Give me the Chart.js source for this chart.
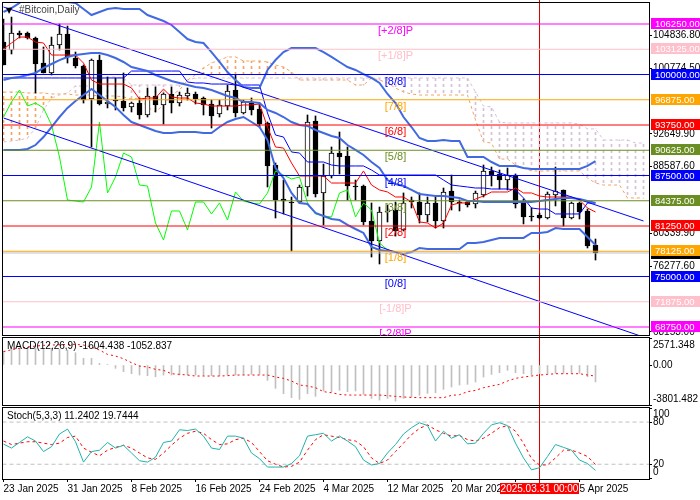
<!DOCTYPE html>
<html>
<head>
<meta charset="utf-8">
<script src="https://cdn.jsdelivr.net/npm/chart.js@4/dist/chart.umd.min.js"></script>
<style>
body{margin:0;background:#fff;}
canvas{position:absolute;left:0;}
</style>
</head>
<body>
<canvas id="priceChart" width="700" height="336" style="top:0"></canvas>
<canvas id="macdChart" width="700" height="70" style="top:336px"></canvas>
<canvas id="stochChart" width="700" height="94" style="top:406px"></canvas>
<script>
// candles, one per day from 23 Jan 2025
var opens = [104020,103030,105140,105140,104520,101420,100190,103650,105010,102040,101050,96970,101790,96350,96840,96720,95980,96470,94990,97340,96230,97590,96470,97340,97590,97090,96350,95110,96100,98080,95240,96600,95730,94000,88800,84590,84220,84220,86080,94240,85340,87440,90280,89910,86200,86200,81870,79390,82980,83230,80760,84470,84220,82610,84100,81870,85580,84220,84220,83970,85090,88060,87690,86940,87560,84220,82490,82610,82240,85090,85710,82240,84100,83110,78900];
var highs = [106870,107110,105380,105260,104640,103400,104640,106250,106000,102780,101180,101920,102410,99690,99570,100190,96600,97090,98330,98450,97710,98450,97830,98330,97830,97220,96840,96840,98700,99940,96840,97090,96470,94120,89050,86940,84840,86320,94990,94870,88920,91030,92880,91030,86940,86320,84100,83600,83850,84220,85340,84840,85340,84840,84840,85950,87560,84470,84340,85580,88800,88550,88180,88430,87690,84590,83480,82860,85460,88550,85710,84220,84220,83350,79640];
var lows = [101180,102540,104520,104390,97710,100190,99940,103030,101420,100810,96470,91030,96230,95860,95610,95480,95360,94490,94740,95360,93870,95240,96100,96840,96350,94990,93380,94740,95610,94740,95110,94990,93500,86080,82240,82740,78160,84100,84960,84840,81380,87190,87690,84470,84470,81380,77410,76550,81750,80000,80630,83480,81620,81750,81000,81000,83230,83110,83600,83480,84840,86200,85830,85710,83480,81500,81870,82120,82120,83730,81250,82120,82120,78530,77040];
var closes = [101180,105140,104890,104520,101300,100190,103650,105010,102170,101050,96840,101790,96350,96600,96720,95860,96470,94990,97340,96230,97590,96470,97460,97710,96970,96230,94870,96230,97960,95240,96600,95610,93870,88680,84470,84340,84100,86080,94120,85210,87440,90280,89790,86200,86080,81750,79390,82980,83110,80630,84100,84220,82610,84100,81870,85460,84220,84100,83850,85340,88060,87560,86940,87560,83970,82370,82370,82240,85210,85580,82240,84100,82980,78780,77910];

// bollinger bands
var bbUpper = [107735,108230,108850,109960,null,null,null,109960,108970,108850,108105,107360,107735,108105,108230,108105,108105,108105,107360,106990,106620,106130,105260,104390,104020,103900,102780,101550,100310,99320,98450,98330,98330,100560,101790,102780,103280,103280,103280,103280,102780,102170,101550,100930,100560,100060,99570,98950,97590,96470,94740,93500,92140,91770,91770,91890,91770,91770,89790,89790,89790,89170,88680,88680,88680,88430,88300,88300,88300,88300,88300,88300,88300,88680,89290];
var bbMiddle = [99320,99570,99690,99940,100190,100810,101300,101790,102170,102410,102540,102660,102660,102410,102040,101550,100930,100680,100430,99940,99570,99200,98950,98700,98450,98330,98080,97710,97340,97090,96600,96600,96470,95610,95240,94740,94120,93750,93630,93130,92760,92390,92140,91270,90660,90040,89170,88430,86940,86450,86200,85710,85210,85090,84960,84960,84840,84720,84340,84340,84220,84220,84220,84220,84220,84220,84220,84340,84470,84590,84720,84720,84590,84340,84100];
var bbLower = [90660,90660,90660,90780,91270,92260,93500,94740,95860,96720,97460,98200,97460,96720,95980,94990,94120,93750,93380,93010,92760,92760,92880,92880,92880,92760,92760,93500,94120,94490,94740,94120,93500,91890,88430,87190,85340,84100,83970,82860,82490,82120,81990,81380,80880,80390,78650,78280,78160,78030,77790,78030,78530,78400,78400,78400,78400,78400,79150,79150,79270,79520,79770,79770,79770,79770,80390,80390,80510,81000,80880,80880,80880,79890,78900];

// ichimoku
var tenkan = [103150,103900,104640,104640,104020,103900,102410,102410,102410,102410,101420,99320,98820,98820,98820,98820,98330,96970,97090,97090,98200,97220,97090,97090,96470,96350,96100,96100,96100,96100,96230,96230,96350,93500,91030,90900,89050,87440,87440,87440,87440,86570,86570,86570,86570,88060,86320,85710,85460,84840,84840,84220,81750,81620,81000,81620,83850,84100,84100,84590,84960,85460,85460,85460,85950,85340,85340,84960,84840,84840,84840,84840,84470,83480,82980];
var kijun = [99570,99570,99570,99570,99570,99570,99570,99570,99570,99570,99570,99570,99570,99570,99570,99570,100430,100430,100430,100430,100430,100430,100430,99070,98950,98950,98820,98820,98820,98700,98700,98700,98700,95240,92510,92260,90410,90280,89170,89170,89170,88800,88680,88680,88680,88680,88180,87560,87560,87560,87560,87560,87560,87560,87560,86940,86320,86200,86080,85950,85950,85830,85830,85830,85710,84720,83480,83350,83350,82740,82740,82740,82740,84100,84100];
var chikou = [94740,96600,98080,96100,96470,95860,93750,89790,84470,84340,84220,86080,94120,85340,87310,90280,89790,86320,86200,81620,79520,83110,83110,80760,84220,84220,82740,84100,81990,85460,84340,84100,83970,85340,88060,87560,87070,87310,84100,82740,82490,82370,85340,85710,82370,84100,83230,79150,78280];
var senkouA = [97830,97830,97830,97710,97710,97710,97590,97590,97590,97460,97460,97460,97340,97340,97340,97220,96970,97090,95980,95360,96230,97460,98080,99320,99940,100810,101420,101790,102170,102170,101670,101670,101670,101550,101180,100930,100310,99320,99320,99320,99320,99320,99320,99320,98700,98700,99570,99320,98950,98330,97830,97590,97460,97460,97460,97460,97460,97460,97460,94370,91650,91520,89540,89540,88800,88430,88060,88060,88060,88060,88060,88060,88060,87190,86570,86320,86320,86320,84720,84720,84720];
var senkouB = [91650,91770,91890,92140,93380,95610,97090,97460,97710,98580,98580,98580,99320,99690,99690,99570,98700,98700,98700,98700,98700,98700,98700,99320,99570,99570,99570,99570,99570,99570,99570,99570,99570,99570,99570,99570,99570,99570,99570,99570,99570,99570,99570,99570,99570,99570,99570,99570,99570,99570,99570,99570,99570,99570,99570,99570,99570,99570,99570,97830,96100,95980,94120,94000,94000,94000,94000,94000,94000,94000,94000,94000,93870,93260,93260,91890,91890,91890,91890,91520,91520];

// murrey levels
var levelPrices = [106250,103125,100000,96875,93750,90625,87500,84375,81250,78125,75000,71875,68750];
var levelNames = ['[+2/8]P','[+1/8]P','[8/8]','[7/8]','[6/8]','[5/8]','[4/8]','[3/8]','[2/8]','[1/8]','[0/8]','[-1/8]P','[-2/8]P'];
var levelColors = ['#ff00ff','#ffc0cb','#0000ff','#ffa500','#ff0000','#6b8e23','#0000ff','#6b8e23','#ff0000','#ffa500','#0000ff','#ffc0cb','#ff00ff'];
var lastPrice = 77910;

// channel lines, value at first and last bar
var channelBars = [0,80];
var channelUpper = [108350,81870];
var channelLower = [94620,67510];

var priceTicks = [104836.8,100774.5,92649.9,88587.6,80339.9,76277.6,68153];

// macd
var macdHist = [1330,1585,1585,1585,1585,1555,1585,1490,1425,1170,635,635,160,60,-315,-635,-825,-950,-1015,-1110,-950,-950,-950,-950,-950,-985,-1015,-1015,-950,-950,-920,-890,-890,-1460,-2220,-2725,-3105,-3265,-2725,-2980,-2470,-2535,-2410,-2535,-2470,-2790,-3170,-3330,-3170,-3425,-3170,-3045,-2885,-2695,-2630,-2315,-2090,-1900,-1840,-1615,-1140,-890,-730,-505,-730,-825,-950,-825,-825,-790,-790,-790,-790,-1110,-1604];
var macdSignal = [1270,1460,1585,1710,1805,1870,1900,1935,1965,1965,1900,1710,1425,1015,855,600,220,-95,-190,-410,-505,-825,-890,-950,-1045,-1045,-1045,-1045,-1015,-950,-950,-950,-950,-950,-1140,-1270,-1520,-1900,-1995,-2155,-2535,-2630,-2790,-2855,-2855,-2855,-2855,-2855,-2915,-2980,-3045,-3075,-3105,-3105,-3105,-3105,-2885,-2820,-2535,-2410,-2155,-1995,-1840,-1520,-1270,-1140,-1045,-950,-890,-825,-825,-825,-825,-950,-1053];
var macdTicks = [2571.348,0,-3801.482];

// stochastic
var stochMain = [48.6,43,51,59,53,38,45,63,70,52,23,38,40,51,43,47,36,25,23,30,51,53,69,68,70,60,43,41,60,60,57,36,28,16,16,16,21,32,60,62,64,53,60,53,45,26,19,21,36,48,63,72,79,75,53,67,57,62,49,50,64,76,79,75,50,29,12,15,31,48,44,40,26,21,11.24];
var stochSignal = [53,48,50,52,52,50,48,50,58,60,43,37,32,40,44,47,43,36,29,27,36,47,57,64,67,64,55,48,49,55,57,51,38,25,20,16,17,23,40,55,62,60,58,55,53,45,29,21,26,38,50,62,71,76,69,64,60,61,55,53,57,64,72,75,67,50,28,19,19,29,40,40,36,31,19.74];
var stochLevels = [80,20];
var stochTicks = [100,80,20,0];

var tickBars = [0,8,16,24,32,40,48,56,64,72];
var tickLabels = ['23 Jan 2025','31 Jan 2025','8 Feb 2025','16 Feb 2025','24 Feb 2025','4 Mar 2025','12 Mar 2025','20 Mar 2025','28 Mar 2025','5 Apr 2025'];
var crossBar = 67;
var crossLabel = '2025.03.31 00:00';

var textFont = '10px "Liberation Sans"';
var xMin = -0.0625, xMax = 80.6875;

function toPoints(values){
  return values.map(function(v, i){ return {x: i, y: v}; });
}

function lineSet(values, color, width, order, dash){
  return {type: 'line', data: toPoints(values), borderColor: color, borderWidth: width, borderDash: dash || [],
          pointRadius: 0, tension: 0, spanGaps: true, order: order};
}

function flatLine(value, color, order, dash){
  return {type: 'line', data: [{x: -1, y: value}, {x: 82, y: value}], borderColor: color, borderWidth: 1,
          borderDash: dash || [], pointRadius: 0, tension: 0, order: order};
}

function barSet(low, high, thickness, fill, order, border){
  return {type: 'bar', data: low.map(function(v, i){ return {x: i, y: [v, high[i]]}; }),
          barThickness: thickness, backgroundColor: fill, borderColor: border || 'transparent',
          borderWidth: border ? 1 : 0, borderSkipped: false, grouped: false, order: order};
}

function hatch(color){
  var c = document.createElement('canvas');
  c.width = 1;
  c.height = 6;
  var g = c.getContext('2d');
  g.fillStyle = color;
  g.fillRect(0, 0, 1, 3);
  return g.createPattern(c, 'repeat');
}

function axes(yMin, yMax, yTicks, showLabels, showX){
  return {
    x: {
      type: 'linear', min: xMin, max: xMax, display: showX, offset: false,
      afterBuildTicks: function(s){ s.ticks = tickBars.map(function(v){ return {value: v}; }); },
      afterFit: function(s){ s.height = showX ? 21 : 0; s.paddingLeft = 0; s.paddingRight = 0; },
      grid: {drawOnChartArea: false, tickLength: 3, color: '#000', offset: false},
      border: {display: false},
      ticks: {color: '#000', font: {family: 'Liberation Sans', size: 10}, padding: 1, align: 'start', maxRotation: 0, autoSkip: false,
        callback: function(v){ return tickLabels[tickBars.indexOf(v)]; }}
    },
    y: {
      position: 'right', min: yMin, max: yMax,
      afterBuildTicks: function(s){ s.ticks = yTicks.map(function(v){ return {value: v}; }); },
      // no room kept for half a label at the ends, the scale fills the panel
      afterFit: function(s){ s.width = 51; s.paddingTop = 0; s.paddingBottom = 0; },
      grid: {drawOnChartArea: false, tickLength: 3, color: '#000'},
      border: {display: false},
      ticks: {display: showLabels, color: '#000', font: {family: 'Liberation Sans', size: 10}, padding: 1, autoSkip: false,
        callback: function(v){ return v.toFixed(2); }}
    }
  };
}

function drawCross(chart){
  var x = chart.scales.x.getPixelForValue(crossBar);
  var c = chart.ctx;
  c.save();
  c.strokeStyle = '#e00000';
  c.lineWidth = 1;
  c.beginPath();
  c.moveTo(x, 0);
  c.lineTo(x, chart.canvas.id == 'stochChart' ? 77 : chart.height);
  c.stroke();
  c.restore();
}

function drawFrame(chart){
  var a = chart.chartArea;
  var c = chart.ctx;
  c.strokeStyle = '#000';
  c.lineWidth = 1;
  c.strokeRect(a.left - 0.5, a.top - 0.5, a.right - a.left + 1, a.bottom - a.top + 1);
}

function sideText(chart, text, value, shift){
  var c = chart.ctx;
  c.fillStyle = '#000';
  c.font = textFont;
  c.textAlign = 'left';
  c.textBaseline = 'middle';
  c.fillText(text, 653, chart.scales.y.getPixelForValue(value) + shift);
}

var pricePlugin = {
  id: 'pricePlugin',
  beforeDatasetsDraw: drawCross,
  afterDraw: function(chart){
    var c = chart.ctx, y = chart.scales.y, xs = chart.scales.x;
    c.save();
    drawFrame(chart);
    c.textBaseline = 'middle';

    // last price tag sits under the 78125 box
    var py = y.getPixelForValue(lastPrice);
    c.fillStyle = '#000';
    c.fillRect(651, py - 5, 49, 11);

    levelPrices.forEach(function(p, i){
      var ly = Math.round(y.getPixelForValue(p));
      c.fillStyle = levelColors[i];
      c.fillRect(651, ly - 6, 49, 11);
      c.fillStyle = '#fff';
      c.textAlign = 'left';
      c.font = '9.5px "Liberation Sans"';
      c.fillText(p.toFixed(2), 655, ly);
      c.fillStyle = levelColors[i];
      c.textAlign = 'center';
      c.font = '11px "Liberation Sans"';
      c.fillText(levelNames[i], xs.getPixelForValue(49), ly + 7);
    });

    c.fillStyle = '#000';
    c.textAlign = 'left';
    c.font = '8px "DejaVu Sans"';
    c.fillText('\u25BC', 6, 11);
    c.font = textFont;
    c.fillStyle = '#444';
    c.fillText('#Bitcoin,Daily', 19, 10);
    c.restore();
  }
};

var macdPlugin = {
  id: 'macdPlugin',
  beforeDatasetsDraw: drawCross,
  afterDraw: function(chart){
    var c = chart.ctx;
    c.save();
    drawFrame(chart);
    sideText(chart, macdTicks[0].toFixed(3), macdTicks[0], 7);
    sideText(chart, macdTicks[1].toFixed(2), macdTicks[1], 0);
    sideText(chart, macdTicks[2].toFixed(3), macdTicks[2], -6);
    c.fillStyle = '#000';
    c.fillText('MACD(12,26,9) -1604.438 -1052.837', 7, 10);
    c.restore();
  }
};

var stochPlugin = {
  id: 'stochPlugin',
  beforeDatasetsDraw: drawCross,
  afterDraw: function(chart){
    var c = chart.ctx;
    c.save();
    drawFrame(chart);
    sideText(chart, String(stochTicks[0]), stochTicks[0], 6);
    sideText(chart, String(stochTicks[1]), stochTicks[1], 0);
    sideText(chart, String(stochTicks[2]), stochTicks[2], 0);
    sideText(chart, String(stochTicks[3]), stochTicks[3], -6);
    c.fillStyle = '#000';
    c.fillText('Stoch(5,3,3) 11.2402 19.7444', 7, 10);

    c.fillStyle = '#ff0000';
    c.fillRect(500, 77, 79, 11);
    c.fillStyle = '#fff';
    c.textAlign = 'center';
    c.fillText(crossLabel, 539.5, 83);
    c.restore();
  }
};

var bodyLow = opens;
var bodyFill = closes.map(function(v, i){ return v >= opens[i] ? '#ffffff' : '#000000'; });
var hatchOrange = hatch('#f4a460');
var hatchThistle = hatch('#d8bfd8');
var cloudFill = senkouA.map(function(v, i){ return v >= senkouB[i] ? hatchOrange : hatchThistle; });

var priceSets = [];
levelPrices.forEach(function(p, i){
  priceSets.push(flatLine(p, levelColors[i], 1));
});
priceSets.push(flatLine(lastPrice, '#c0c0c0', 2));
priceSets.push({type: 'line', data: channelBars.map(function(b, i){ return {x: b, y: channelUpper[i]}; }), borderColor: '#0000ff', borderWidth: 1, pointRadius: 0, tension: 0, order: 3});
priceSets.push({type: 'line', data: channelBars.map(function(b, i){ return {x: b, y: channelLower[i]}; }), borderColor: '#0000ff', borderWidth: 1, pointRadius: 0, tension: 0, order: 3});
priceSets.push(lineSet(bbUpper, '#4169e1', 2, 4));
priceSets.push(lineSet(bbMiddle, '#4169e1', 2, 4));
priceSets.push(lineSet(bbLower, '#4169e1', 2, 4));
priceSets.push(lineSet(tenkan, '#ff0000', 1, 5));
priceSets.push(lineSet(kijun, '#0000ff', 1, 5));
priceSets.push(lineSet(chikou, '#00ff00', 1, 5));
priceSets.push(barSet(bodyLow, closes, 5, bodyFill, 6, '#000000'));
priceSets.push(barSet(lows, highs, 1, '#000000', 7));
priceSets.push(lineSet(senkouA, '#f4a460', 1, 8, [3, 3]));
priceSets.push(lineSet(senkouB, '#d8bfd8', 1, 8, [3, 3]));
priceSets.push(barSet(senkouA, senkouB, 1, cloudFill, 9));

var baseOptions = {
  responsive: false,
  animation: false,
  devicePixelRatio: 1,
  plugins: {legend: {display: false}, tooltip: {enabled: false}}
};

new Chart(document.getElementById('priceChart'), {
  type: 'bar',
  data: {datasets: priceSets},
  options: Object.assign({}, baseOptions, {
    layout: {padding: {left: 3, top: 3, bottom: 1, right: 0}},
    scales: axes(67760, 108850, priceTicks, true, false)
  }),
  plugins: [pricePlugin]
});

new Chart(document.getElementById('macdChart'), {
  type: 'bar',
  data: {datasets: [
    lineSet(macdSignal, '#ff0000', 1, 1, [2, 3]),
    {type: 'bar', data: toPoints(macdHist), barThickness: 1, backgroundColor: '#c0c0c0', grouped: false, order: 2}
  ]},
  options: Object.assign({}, baseOptions, {
    layout: {padding: {left: 3, top: 2, bottom: 1, right: 0}},
    scales: axes(macdTicks[2], macdTicks[0], macdTicks, false, false)
  }),
  plugins: [macdPlugin]
});

new Chart(document.getElementById('stochChart'), {
  type: 'line',
  data: {datasets: [
    lineSet(stochMain, '#20b2aa', 1, 1),
    lineSet(stochSignal, '#ff0000', 1, 2, [3, 3]),
    flatLine(stochLevels[0], '#c0c0c0', 3, [4, 3]),
    flatLine(stochLevels[1], '#c0c0c0', 3, [4, 3])
  ]},
  options: Object.assign({}, baseOptions, {
    layout: {padding: {left: 3, top: 2, bottom: 0, right: 0}},
    scales: axes(-1, 100, stochTicks, false, true)
  }),
  plugins: [stochPlugin]
});
</script>
</body>
</html>
